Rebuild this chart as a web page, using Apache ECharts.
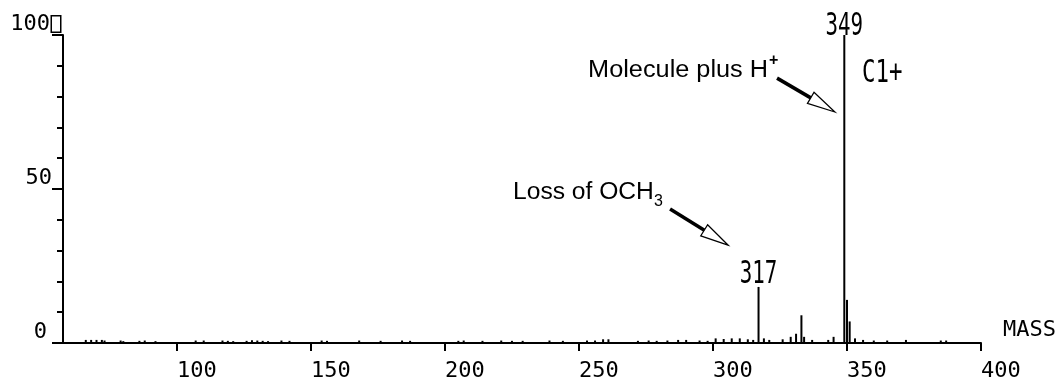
<!DOCTYPE html>
<html><head><meta charset="utf-8">
<script src="https://cdn.jsdelivr.net/npm/echarts@6/dist/echarts.min.js"></script>
<style>html,body{margin:0;padding:0;background:#fff}#c{width:1060px;height:391px}</style>
</head><body><div id="c"></div>
<script>
// ---- data ----
const masses = [66,68,70,72,73,79,80,86,88,92,107,110,117,119,121,126,128,130,132,134,139,142,154,156,168,176,184,187,205,207,214,221,225,229,239,244,253,256,259,261,272,276,279,283,287,290,295,298,301,304,307,310,313,315,317,319,321,326,329,331,333,334,337,343,345,349,350,351,353,356,360,365,372,385,387];
const intensities = [1,1,1,1,0.8,0.8,0.6,0.7,0.8,0.6,0.8,0.8,0.8,0.7,0.6,0.7,0.9,0.8,0.7,0.6,0.8,0.7,0.8,0.7,0.8,0.7,0.8,0.7,0.7,0.8,0.7,0.8,0.7,0.7,0.8,0.7,0.8,0.8,1.2,1.2,0.7,0.8,0.7,0.8,1,1,0.8,0.7,1.5,1.3,1.5,1.5,1.2,1.0,18.2,1.5,1,1.2,2,3,9,2,1,1,2,100,14,7,1.5,1,0.8,0.8,1,0.8,0.8];
const xTickValues = [100,150,200,250,300,350,400];
const yTickValues = [0,50,100];
const xAxisName = 'MASS';
const peakLabelMasses = [349,317];
const peakLabelTexts = ['349','317'];
const ionLabel = 'C1+';
const annotMolecule = 'Molecule plus H';
const annotLoss = 'Loss of OCH';

const chart = echarts.init(document.getElementById('c'), null, {renderer:'canvas'});
const mono = 'DejaVu Sans Mono';
const option = {
  animation:false,
  backgroundColor:'#fff',
  grid:{left:63,right:79,top:35,bottom:48,containLabel:false,outerBoundsMode:'none'},
  xAxis:{
    type:'value', min:57.5, max:400,
    name:xAxisName, nameLocation:'end', nameGap:22,
    nameTextStyle:{fontFamily:mono,fontSize:22,color:'#000',verticalAlign:'bottom',padding:[0,0,2,0]},
    axisLine:{show:true,onZero:false,lineStyle:{color:'#000',width:2}},
    axisTick:{show:true,inside:false,length:8,lineStyle:{color:'#000',width:2},customValues:xTickValues},
    axisLabel:{show:true,color:'#000',fontFamily:mono,fontSize:22,align:'left',margin:17,customValues:xTickValues,formatter:v=>String(v)},
    splitLine:{show:false}
  },
  yAxis:{
    type:'value', min:0, max:100, interval:50,
    axisLine:{show:true,lineStyle:{color:'#000',width:2}},
    axisTick:{show:true,inside:false,length:11,lineStyle:{color:'#000',width:2}},
    minorTick:{show:true,splitNumber:5,length:6,lineStyle:{color:'#000',width:2}},
    axisLabel:{color:'#000',fontFamily:mono,fontSize:22,margin:3,verticalAlign:'bottom',
      formatter:v=> v===100 ? '{a|100}{g|}{b|}' : (v===50 ? '{a|50}{s8|}' : '{a|'+v+'}{s13|}'),
      rich:{a:{fontFamily:mono,fontSize:22,color:'#000'},
            g:{width:2,height:15},
            s8:{width:8,height:15},
            s13:{width:13,height:15},
            b:{width:8,height:15,borderColor:'#000',borderWidth:1.5,backgroundColor:'#fff'}}},
    splitLine:{show:false}
  },
  series:[{
    type:'bar', barWidth:2, barGap:'-100%',
    itemStyle:{color:'#000'},
    data:masses.map((m,i)=>[m,intensities[i]])
  }]
};
chart.setOption(option);

const P = (x,y)=>chart.convertToPixel({seriesIndex:0},[x,y]);
function arrow(sx,sy,tx,ty){
  const S=P(sx,sy),T=P(tx,ty);
  const dx=T[0]-S[0],dy=T[1]-S[1],len=Math.hypot(dx,dy);
  const ux=dx/len,uy=dy/len,L=28,w=6.5;
  const B=[T[0]-ux*L,T[1]-uy*L];
  const nx=-uy,ny=ux;
  return [
    {type:'polyline',shape:{points:[S,[B[0]+ux*3,B[1]+uy*3]]},style:{stroke:'#000',lineWidth:3.5,fill:null},z:10},
    {type:'polygon',shape:{points:[T,[B[0]+nx*w,B[1]+ny*w],[B[0]-nx*w,B[1]-ny*w]]},style:{stroke:'#000',lineWidth:1.3,fill:'#fff'},z:11}
  ];
}
const g=[];
const labelCenters = {349:102.6, 317:22.3};
peakLabelMasses.forEach((m,i)=>{
  const p=P(m, labelCenters[m]);
  g.push({type:'text',x:p[0],y:p[1],scaleX:0.65,style:{text:peakLabelTexts[i],fontFamily:mono,fontSize:32,fill:'#000',textAlign:'center',textVerticalAlign:'middle'},z:12});
});
const c=P(355.6,87.4);
g.push({type:'text',x:c[0],y:c[1],scaleX:0.7,style:{text:ionLabel,fontFamily:mono,fontSize:32,fill:'#000',textAlign:'left',textVerticalAlign:'middle'},z:12});
const m1=P(253.4,88.5);
g.push({type:'text',x:m1[0],y:m1[1],scaleX:1.1,style:{text:annotMolecule,fontFamily:'Liberation Sans',fontSize:23,fill:'#000',textAlign:'left',textVerticalAlign:'middle'},z:12});
g.push({type:'text',x:m1[0]+181,y:m1[1]-10,style:{text:'+',fontFamily:'Liberation Sans',fontSize:16,fontWeight:'bold',fill:'#000',textAlign:'left',textVerticalAlign:'middle'},z:12});
const l1=P(225.4,48.7);
g.push({type:'text',x:l1[0],y:l1[1],scaleX:1.07,style:{text:annotLoss,fontFamily:'Liberation Sans',fontSize:23,fill:'#000',textAlign:'left',textVerticalAlign:'middle'},z:12});
g.push({type:'text',x:l1[0]+141,y:l1[1]+9,style:{text:'3',fontFamily:'Liberation Sans',fontSize:16,fill:'#000',textAlign:'left',textVerticalAlign:'middle'},z:12});
g.push(...arrow(323.9,86,345.5,75));
g.push(...arrow(284,43.5,305.6,31.8));
chart.setOption({graphic:{elements:g}});
</script></body></html>
